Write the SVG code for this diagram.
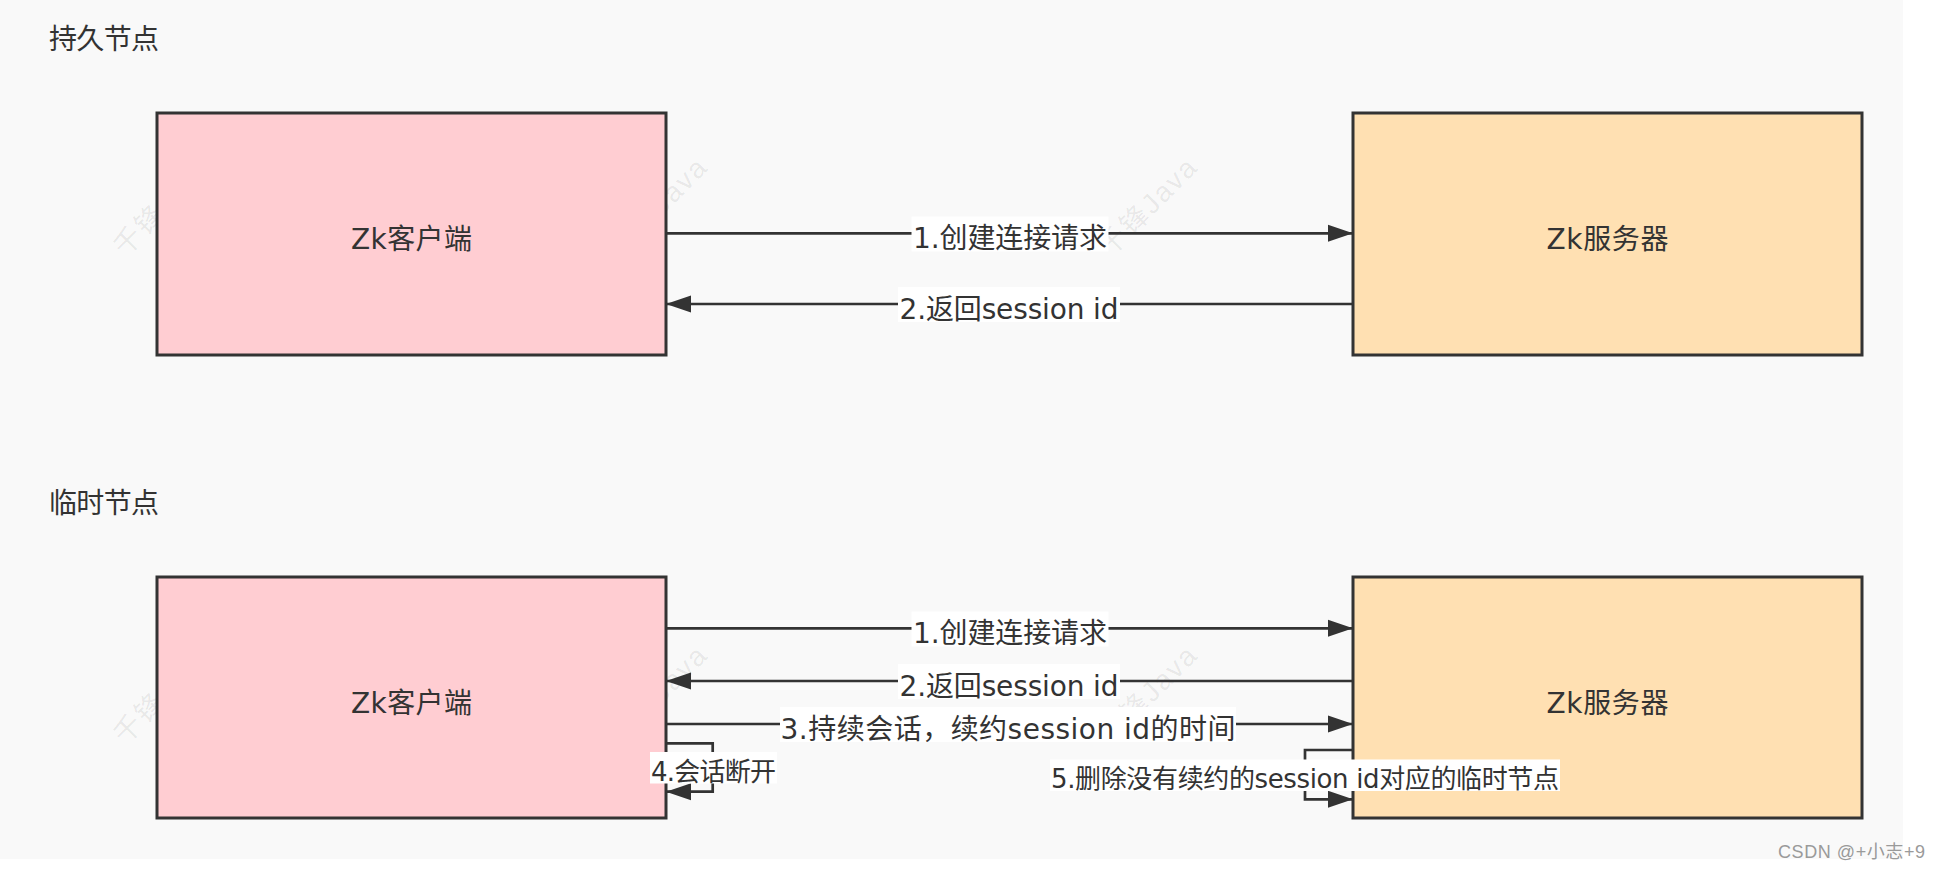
<svg xmlns="http://www.w3.org/2000/svg" width="1941" height="871" viewBox="0 0 1941 871">
  <style>
    .title { font-family: "Noto Sans CJK SC", "DejaVu Sans", sans-serif; font-size: 28px; fill: #333333; }
    .nodebox { stroke: #333333; stroke-width: 3; }
    .client { fill: #FFCDD2; }
    .server { fill: #FFE0B2; }
    .nodetext { font-family: "DejaVu Sans", "Noto Sans CJK SC", sans-serif; font-size: 28px; fill: #333333; text-anchor: middle; }
    .edge { fill: none; stroke: #333333; stroke-width: 2.7; marker-end: url(#arrow); }
    .lblbg { fill: #FFFFFF; }
    .lbl { font-family: "DejaVu Sans", "Noto Sans CJK SC", sans-serif; font-size: 28px; fill: #333333; text-anchor: middle; }
    .lbls { font-family: "DejaVu Sans", "Noto Sans CJK SC", sans-serif; font-size: 26px; fill: #333333; text-anchor: middle; }
    .wm { font-family: "Liberation Sans", "Noto Sans CJK SC", sans-serif; font-size: 28px; fill: #000000; fill-opacity: 0.08; }
    .csdn { font-family: "Liberation Sans", "Noto Sans CJK SC", sans-serif; font-size: 18px; fill: #9a9a9a; text-anchor: end; }
  </style>
  <defs>
    <marker id="arrow" markerUnits="userSpaceOnUse" markerWidth="26" markerHeight="18" refX="25" refY="9" orient="auto">
      <path d="M0,0.5 L25,9 L0,17.5 Z" fill="#333333"/>
    </marker>
  </defs>

  <rect x="0" y="0" width="1941" height="871" fill="#FFFFFF"/>
  <rect x="0" y="0" width="1903" height="859" fill="#F9F9F9"/>

  <g id="watermarks">
    <text class="wm" x="125" y="258" textLength="125" transform="rotate(-45 125 258)">千锋Java</text>
    <text class="wm" x="620" y="258" textLength="125" transform="rotate(-45 620 258)">千锋Java</text>
    <text class="wm" x="1110" y="258" textLength="125" transform="rotate(-45 1110 258)">千锋Java</text>
    <text class="wm" x="1600" y="258" textLength="125" transform="rotate(-45 1600 258)">千锋Java</text>
    <text class="wm" x="125" y="746" textLength="125" transform="rotate(-45 125 746)">千锋Java</text>
    <text class="wm" x="620" y="746" textLength="125" transform="rotate(-45 620 746)">千锋Java</text>
    <text class="wm" x="1110" y="746" textLength="125" transform="rotate(-45 1110 746)">千锋Java</text>
    <text class="wm" x="1600" y="746" textLength="125" transform="rotate(-45 1600 746)">千锋Java</text>
  </g>

  <g id="title-persistent">
    <text class="title" x="49" y="49" textLength="110">持久节点</text>
  </g>
  <g id="title-ephemeral">
    <text class="title" x="49" y="513" textLength="110">临时节点</text>
  </g>

  <g id="client-top">
    <rect class="nodebox client" x="157" y="113" width="509" height="242"/>
    <text class="nodetext" x="411.5" y="249" textLength="121">Zk客户端</text>
  </g>
  <g id="server-top">
    <rect class="nodebox server" x="1353" y="113" width="509" height="242"/>
    <text class="nodetext" x="1607.5" y="249" textLength="122">Zk服务器</text>
  </g>
  <g id="client-bottom">
    <rect class="nodebox client" x="157" y="577" width="509" height="241"/>
    <text class="nodetext" x="411.5" y="713" textLength="121">Zk客户端</text>
  </g>
  <g id="server-bottom">
    <rect class="nodebox server" x="1353" y="577" width="509" height="241"/>
    <text class="nodetext" x="1607.5" y="713" textLength="122">Zk服务器</text>
  </g>

  <g id="connectors">
    <path class="edge" d="M666,233.3 H1353"/>
    <path class="edge" d="M1353,304 H666"/>
    <path class="edge" d="M666,628.3 H1353"/>
    <path class="edge" d="M1353,681 H666"/>
    <path class="edge" d="M666,724 H1353"/>
    <path class="edge" d="M666,743.3 H712.7 V791.7 H666"/>
    <path class="edge" d="M1353,750 H1305 V799.3 H1353"/>

    <rect class="lblbg" x="911.5" y="216.5" width="197" height="35"/>
    <text class="lbl" x="1010" y="248" textLength="194">1.创建连接请求</text>
    <rect class="lblbg" x="898" y="287" width="222" height="35"/>
    <text class="lbl" x="1009" y="318.5" textLength="219">2.返回session id</text>

    <rect class="lblbg" x="911.5" y="611.5" width="197" height="35"/>
    <text class="lbl" x="1010" y="643" textLength="194">1.创建连接请求</text>
    <rect class="lblbg" x="898" y="664" width="222" height="35"/>
    <text class="lbl" x="1009" y="695.5" textLength="219">2.返回session id</text>
    <rect class="lblbg" x="780" y="707" width="456" height="35"/>
    <text class="lbl" x="1008" y="738.5" textLength="455">3.持续会话，续约session id的时间</text>
    <rect class="lblbg" x="650" y="752" width="127" height="31.5"/>
    <text class="lbls" x="713.5" y="780.5" textLength="125">4.会话断开</text>
    <rect class="lblbg" x="1050" y="759.5" width="510" height="31.5"/>
    <text class="lbls" x="1305" y="787.5" textLength="508">5.删除没有续约的session id对应的临时节点</text>
  </g>

  <text class="csdn" x="1925" y="858" textLength="147">CSDN @+小志+9</text>
</svg>
